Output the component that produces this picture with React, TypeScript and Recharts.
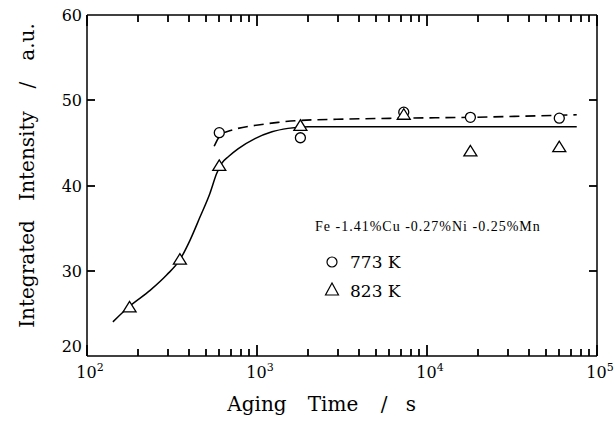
import { ComposedChart, Line, ReferenceLine, Scatter, XAxis, YAxis } from "recharts";

// aging time (s) vs integrated intensity (a.u.)
const circles773 = [
  { t: 600, v: 46.2 },
  { t: 1800, v: 45.6 },
  { t: 7300, v: 48.6 },
  { t: 18000, v: 48.0 },
  { t: 60000, v: 47.9 },
];

const triangles823 = [
  { t: 178, v: 25.7 },
  { t: 352, v: 31.3 },
  { t: 600, v: 42.3 },
  { t: 1800, v: 47.0 },
  { t: 7300, v: 48.3 },
  { t: 18000, v: 44.0 },
  { t: 60000, v: 44.5 },
];

// fitted curves
const fit773 = [
  { t: 560, v: 44.6 },
  { t: 590, v: 45.5 },
  { t: 620, v: 46.1 },
  { t: 663, v: 46.3 },
  { t: 773, v: 46.7 },
  { t: 1014, v: 47.1 },
  { t: 1330, v: 47.4 },
  { t: 1673, v: 47.6 },
  { t: 3500, v: 47.8 },
  { t: 7300, v: 47.9 },
  { t: 18000, v: 48.0 },
  { t: 76000, v: 48.3 },
];

const fit823 = [
  { t: 142, v: 24.0 },
  { t: 177, v: 25.8 },
  { t: 235, v: 27.7 },
  { t: 294, v: 29.5 },
  { t: 352, v: 31.3 },
  { t: 404, v: 33.6 },
  { t: 462, v: 36.3 },
  { t: 529, v: 39.1 },
  { t: 579, v: 41.4 },
  { t: 620, v: 42.6 },
  { t: 680, v: 43.4 },
  { t: 773, v: 44.3 },
  { t: 973, v: 45.5 },
  { t: 1225, v: 46.3 },
  { t: 1522, v: 46.7 },
  { t: 2000, v: 46.9 },
  { t: 76000, v: 46.9 },
];

const majorX = [100, 1000, 10000, 100000];
const minorX = [
  200, 300, 400, 500, 600, 700, 800, 900,
  2000, 3000, 4000, 5000, 6000, 7000, 8000, 9000,
  20000, 30000, 40000, 50000, 60000, 70000, 80000, 90000,
];
const yTicks = [20, 30, 40, 50, 60];
const innerYTicks = [30, 40, 50];

const X_MIN = 100;
const X_MAX = 100000;
const Y_MIN = 20;
const Y_MAX = 60;

const INK = "#000";
const TICK_FONT = "'DejaVu Serif', serif";
const TITLE_FONT = "'DejaVu Serif', serif";

// plot box, from the chart margins + axis sizes below
const PLOT = { left: 87, right: 597, top: 15, bottom: 356 };
const pxX = (v: number) =>
  PLOT.left + ((PLOT.right - PLOT.left) * (Math.log10(v) - Math.log10(X_MIN))) / (Math.log10(X_MAX) - Math.log10(X_MIN));
const pxY = (v: number) => PLOT.bottom - ((PLOT.bottom - PLOT.top) * (v - Y_MIN)) / (Y_MAX - Y_MIN);

const BottomLabel = (props: any) => {
  const { x, y, payload } = props;
  const exp = Math.round(Math.log10(payload.value));
  return (
    <text x={x + 3} y={y + 22} textAnchor="middle" fontFamily={TICK_FONT} fontSize={16} fill={INK}>
      10
      <tspan dy={-7} fontSize={11}>{exp}</tspan>
    </text>
  );
};

const LeftLabel = (props: any) => {
  const { x, y, payload } = props;
  const shift = payload.value === 20 ? -10 : 0;
  return (
    <text x={x - 5} y={y + 6 + shift} textAnchor="end" fontFamily={TICK_FONT} fontSize={16} fill={INK}>
      {payload.value}
    </text>
  );
};

const OpenCircle = (props: any) => (
  <circle cx={props.cx} cy={props.cy} r={5} fill="#fff" stroke={INK} strokeWidth={1.3} />
);

const OpenTriangle = (props: any) => {
  const { cx, cy } = props;
  return (
    <polygon
      points={`${cx},${cy - 6} ${cx - 6.5},${cy + 4.5} ${cx + 6.5},${cy + 4.5}`}
      fill="#fff"
      stroke={INK}
      strokeWidth={1.3}
    />
  );
};

// tick marks as small filled rects (inward)
function TickMarks() {
  const w = 1.8;
  const rects: any[] = [];
  [...majorX, ...minorX].forEach((v) => {
    const len = majorX.includes(v) ? 11 : 7;
    const x = Math.round(pxX(v)) - w / 2;
    rects.push(<rect key={`b${v}`} x={x} y={PLOT.bottom - len} width={w} height={len} fill={INK} />);
    rects.push(<rect key={`t${v}`} x={x} y={PLOT.top} width={w} height={len} fill={INK} />);
  });
  innerYTicks.forEach((v) => {
    const y = Math.round(pxY(v)) - w / 2;
    rects.push(<rect key={`l${v}`} x={PLOT.left} y={y} width={8} height={w} fill={INK} />);
    rects.push(<rect key={`r${v}`} x={PLOT.right - 8} y={y} width={8} height={w} fill={INK} />);
  });
  return <g>{rects}</g>;
}

export default function App() {
  return (
    <div style={{ position: "absolute", left: 0, top: 0, width: 614, height: 426, background: "#fff" }}>
      <div style={{ position: "absolute", left: 0, top: 0 }}>
        <ComposedChart width={614} height={426} margin={{ top: 15, right: 17, bottom: 40, left: 47 }}>
          <XAxis
            dataKey="t"
            type="number"
            scale="log"
            domain={[X_MIN, X_MAX]}
            ticks={majorX}
            interval={0}
            tick={BottomLabel}
            tickLine={false}
            tickSize={0}
            tickMargin={0}
            height={30}
            axisLine={{ stroke: INK, strokeWidth: 1.5 }}
          />
          <YAxis
            dataKey="v"
            type="number"
            domain={[Y_MIN, Y_MAX]}
            ticks={yTicks}
            interval={0}
            tick={LeftLabel}
            tickLine={false}
            tickSize={0}
            tickMargin={0}
            width={40}
            axisLine={{ stroke: INK, strokeWidth: 1.5 }}
          />

          {/* frame: top and right edges */}
          <ReferenceLine y={Y_MAX} stroke={INK} strokeWidth={1.5} ifOverflow="visible" />
          <ReferenceLine x={X_MAX} stroke={INK} strokeWidth={1.5} ifOverflow="visible" />

          <Line
            data={fit823}
            dataKey="v"
            type="monotone"
            stroke={INK}
            strokeWidth={1.5}
            dot={false}
            activeDot={false}
            isAnimationActive={false}
          />
          <Line
            data={fit773}
            dataKey="v"
            type="monotone"
            stroke={INK}
            strokeWidth={1.6}
            strokeDasharray="10 6"
            dot={false}
            activeDot={false}
            isAnimationActive={false}
          />
          <Scatter data={circles773} dataKey="v" shape={OpenCircle} isAnimationActive={false} />
          <Scatter data={triangles823} dataKey="v" shape={OpenTriangle} isAnimationActive={false} />
        </ComposedChart>
      </div>

      <svg width={614} height={426} style={{ position: "absolute", left: 0, top: 0, pointerEvents: "none" }}>
        <TickMarks />
        {/* y title, word by word */}
        <g fontFamily={TITLE_FONT} fontSize={20} fill={INK} textAnchor="middle">
          <text transform="translate(34,274) rotate(-90)">Integrated</text>
          <text transform="translate(34,156) rotate(-90)">Intensity</text>
          <text transform="translate(34,85) rotate(-90)">/</text>
          <text transform="translate(34,42) rotate(-90)">a.u.</text>
        </g>
        {/* x title */}
        <g fontFamily={TITLE_FONT} fontSize={20} fill={INK} textAnchor="middle">
          <text x={257} y={411}>Aging</text>
          <text x={333} y={411}>Time</text>
          <text x={384} y={411}>/</text>
          <text x={411} y={411}>s</text>
        </g>
        {/* legend */}
        <text x={315} y={231} fontFamily="'Liberation Serif', serif" fontSize={14} letterSpacing={1} fill={INK}>
          Fe -1.41%Cu -0.27%Ni -0.25%Mn
        </text>
        <circle cx={332} cy={262} r={5} fill="#fff" stroke={INK} strokeWidth={1.2} />
        <text x={350} y={268} fontFamily={TITLE_FONT} fontSize={17} fill={INK}>773 K</text>
        <polygon points="332,283 325.5,295 338.5,295" fill="#fff" stroke={INK} strokeWidth={1.2} />
        <text x={350} y={297} fontFamily={TITLE_FONT} fontSize={17} fill={INK}>823 K</text>
      </svg>
    </div>
  );
}
